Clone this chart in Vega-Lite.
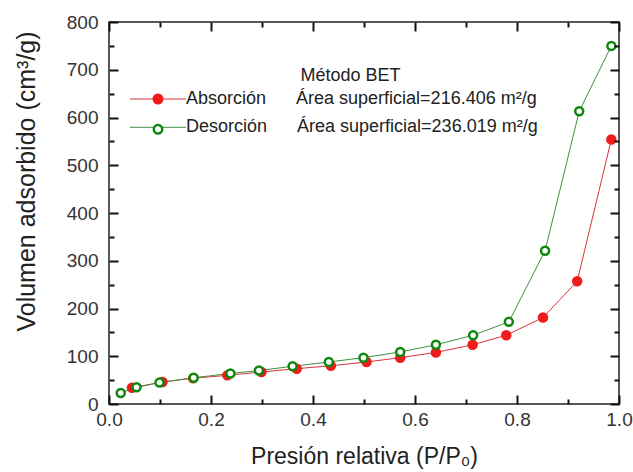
{
  "$schema": "https://vega.github.io/schema/vega-lite/v6.json",
  "width": 510,
  "height": 382,
  "autosize": {"type": "none"},
  "padding": {"left": 109, "top": 22, "right": 14, "bottom": 68},
  "background": "white",
  "config": {
    "view": {"stroke": "#222222", "strokeWidth": 1.5},
    "axis": {
      "domain": false,
      "grid": false,
      "zindex": 3,
      "labelFont": "Liberation Sans",
      "titleFont": "Liberation Sans",
      "labelFontSize": 19,
      "titleFontSize": 23,
      "titleFontWeight": "normal",
      "labelColor": "#333333",
      "titleColor": "#222222"
    }
  },
  "data": {
    "values": [
      {"p": 0.045, "v": 34, "serie": "Absorción"},
      {"p": 0.105, "v": 46, "serie": "Absorción"},
      {"p": 0.165, "v": 54, "serie": "Absorción"},
      {"p": 0.232, "v": 60, "serie": "Absorción"},
      {"p": 0.299, "v": 67, "serie": "Absorción"},
      {"p": 0.368, "v": 74, "serie": "Absorción"},
      {"p": 0.435, "v": 80, "serie": "Absorción"},
      {"p": 0.505, "v": 88, "serie": "Absorción"},
      {"p": 0.571, "v": 97, "serie": "Absorción"},
      {"p": 0.641, "v": 108, "serie": "Absorción"},
      {"p": 0.713, "v": 124, "serie": "Absorción"},
      {"p": 0.779, "v": 144, "serie": "Absorción"},
      {"p": 0.851, "v": 181, "serie": "Absorción"},
      {"p": 0.918, "v": 257, "serie": "Absorción"},
      {"p": 0.985, "v": 554, "serie": "Absorción"},
      {"p": 0.023, "v": 23, "serie": "Desorción"},
      {"p": 0.054, "v": 35, "serie": "Desorción"},
      {"p": 0.099, "v": 45, "serie": "Desorción"},
      {"p": 0.166, "v": 55, "serie": "Desorción"},
      {"p": 0.238, "v": 64, "serie": "Desorción"},
      {"p": 0.294, "v": 70, "serie": "Desorción"},
      {"p": 0.36, "v": 79, "serie": "Desorción"},
      {"p": 0.431, "v": 88, "serie": "Desorción"},
      {"p": 0.499, "v": 97, "serie": "Desorción"},
      {"p": 0.571, "v": 109, "serie": "Desorción"},
      {"p": 0.641, "v": 124, "serie": "Desorción"},
      {"p": 0.714, "v": 144, "serie": "Desorción"},
      {"p": 0.784, "v": 172, "serie": "Desorción"},
      {"p": 0.855, "v": 321, "serie": "Desorción"},
      {"p": 0.922, "v": 613, "serie": "Desorción"},
      {"p": 0.985, "v": 750, "serie": "Desorción"}
    ]
  },
  "layer": [
    {
      "mark": {"type": "point", "opacity": 0},
      "encoding": {
        "x": {
          "field": "p", "type": "quantitative",
          "scale": {"domain": [0, 1], "nice": false, "zero": false},
          "axis": {"orient": "top", "values": [0.1, 0.3, 0.5, 0.7, 0.9], "labels": false, "title": null, "offset": -5, "ticks": true, "tickSize": 5, "tickColor": "#111111", "tickWidth": 2, "zindex": 3}
        },
        "y": {
          "field": "v", "type": "quantitative",
          "scale": {"domain": [0, 800], "nice": false, "zero": false},
          "axis": {"orient": "right", "values": [50, 150, 250, 350, 450, 550, 650, 750], "labels": false, "title": null, "offset": -5, "ticks": true, "tickSize": 5, "tickColor": "#111111", "tickWidth": 2, "zindex": 3}
        }
      }
    },
    {
      "mark": {"type": "point", "opacity": 0},
      "encoding": {
        "x": {
          "field": "p", "type": "quantitative",
          "axis": {"orient": "bottom", "values": [0.1, 0.3, 0.5, 0.7, 0.9], "labels": false, "title": null, "offset": -5, "ticks": true, "tickSize": 5, "tickColor": "#111111", "tickWidth": 2, "zindex": 3}
        },
        "y": {
          "field": "v", "type": "quantitative",
          "axis": {"orient": "left", "values": [50, 150, 250, 350, 450, 550, 650, 750], "labels": false, "title": null, "offset": -5, "ticks": true, "tickSize": 5, "tickColor": "#111111", "tickWidth": 2, "zindex": 3}
        }
      }
    },
    {
      "mark": {"type": "point", "opacity": 0},
      "encoding": {
        "x": {
          "field": "p", "type": "quantitative",
          "axis": {"orient": "top", "values": [0, 0.2, 0.4, 0.6, 0.8, 1.0], "labels": false, "title": null, "offset": -9, "ticks": true, "tickSize": 9, "tickColor": "#111111", "tickWidth": 2, "zindex": 3}
        },
        "y": {
          "field": "v", "type": "quantitative",
          "axis": {"orient": "right", "values": [0, 100, 200, 300, 400, 500, 600, 700, 800], "labels": false, "title": null, "offset": -9, "ticks": true, "tickSize": 9, "tickColor": "#111111", "tickWidth": 2, "zindex": 3}
        }
      }
    },
    {
      "mark": {"type": "line", "strokeWidth": 1},
      "encoding": {
        "x": {
          "field": "p", "type": "quantitative",
          "axis": {
            "orient": "bottom",
            "values": [0, 0.2, 0.4, 0.6, 0.8, 1.0],
            "format": ".1f",
            "labelFlush": false,
            "offset": -9,
            "ticks": true,
            "tickSize": 9,
            "tickColor": "#111111",
            "tickWidth": 2,
            "zindex": 3,
            "labelPadding": 6,
            "title": "Presión relativa (P/P₀)",
            "titleX": 255, "titleY": 68,
            "titleAlign": "center", "titleBaseline": "alphabetic"
          }
        },
        "y": {
          "field": "v", "type": "quantitative",
          "axis": {
            "orient": "left",
            "values": [0, 100, 200, 300, 400, 500, 600, 700, 800],
            "offset": -9,
            "ticks": true,
            "tickSize": 9,
            "tickColor": "#111111",
            "tickWidth": 2,
            "zindex": 3,
            "labelPadding": 11,
            "title": "Volumen adsorbido (cm³/g)",
            "titleFontSize": 25,
            "titleX": -84, "titleY": 159, "titleAngle": 270,
            "titleAlign": "center", "titleBaseline": "alphabetic"
          }
        },
        "stroke": {
          "field": "serie", "type": "nominal",
          "scale": {"domain": ["Absorción", "Desorción"], "range": ["#d8343a", "#3f8f3f"]},
          "legend": {
            "orient": "none", "legendX": 40, "legendY": 45, "padding": 0,
            "zindex": 1,
            "title": "\u200b\u00a0\u00a0\u00a0Método BET",
            "titleAnchor": "middle",
            "titleFont": "Liberation Sans", "titleFontSize": 18, "titleFontWeight": "normal",
            "titleColor": "#222222", "titlePadding": 5,
            "labelFont": "Liberation Sans", "labelFontSize": 18, "labelColor": "#222222",
            "labelOffset": 19, "labelLimit": 700,
            "labelExpr": "datum.label == 'Absorción' ? 'Absorción\u00a0\u00a0\u00a0\u00a0\u00a0\u00a0Área superficial=216.406 m²/g' : 'Desorción\u00a0\u00a0\u00a0\u00a0\u00a0\u00a0Área superficial=236.019 m²/g'",
            "symbolType": "M-5.6,0H-1M1,0H5.6",
            "symbolSize": 100,
            "symbolStrokeWidth": 1,
            "rowPadding": 10.3
          }
        }
      }
    },
    {
      "mark": {"type": "point", "size": 64, "strokeWidth": 2.5, "opacity": 1},
      "encoding": {
        "x": {"field": "p", "type": "quantitative", "axis": null},
        "y": {"field": "v", "type": "quantitative", "axis": null},
        "color": {
          "field": "serie", "type": "nominal",
          "scale": {"range": ["#ee1c1c", "#0e870e"]},
          "legend": {
            "orient": "none", "legendX": 40, "legendY": 45, "padding": 0,
            "zindex": 2,
            "title": "Método BET",
            "titleAnchor": "middle",
            "titleFont": "Liberation Sans", "titleFontSize": 18, "titleFontWeight": "normal",
            "titleOpacity": 0, "titlePadding": 5,
            "labelFont": "Liberation Sans", "labelFontSize": 18, "labelOpacity": 0,
            "labelOffset": 19, "labelLimit": 700,
            "symbolType": "circle",
            "symbolSize": 72,
            "symbolStrokeWidth": 2.5,
            "rowPadding": 10.3
          }
        },
        "fill": {
          "field": "serie", "type": "nominal",
          "scale": {"range": ["#ee1c1c", "#ffffff"]},
          "legend": {
            "orient": "none", "legendX": 40, "legendY": 45, "padding": 0,
            "zindex": 2,
            "title": "Método BET",
            "titleAnchor": "middle",
            "titleFont": "Liberation Sans", "titleFontSize": 18, "titleFontWeight": "normal",
            "titleOpacity": 0, "titlePadding": 5,
            "labelFont": "Liberation Sans", "labelFontSize": 18, "labelOpacity": 0,
            "labelOffset": 19, "labelLimit": 700,
            "symbolType": "circle",
            "symbolSize": 72,
            "symbolStrokeWidth": 2.5,
            "rowPadding": 10.3
          }
        }
      }
    }
  ],
  "resolve": {"axis": {"x": "independent", "y": "independent"}}
}
